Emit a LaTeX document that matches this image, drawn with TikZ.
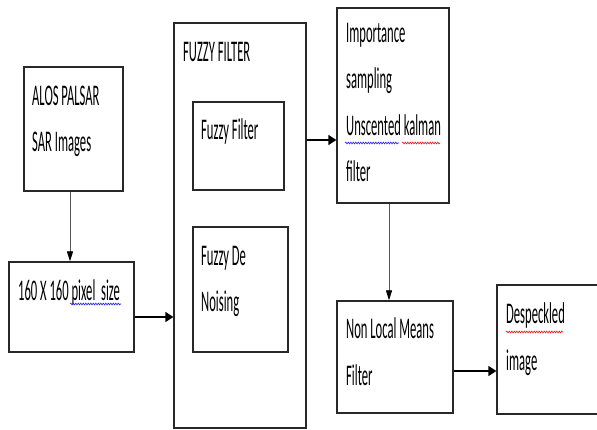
\documentclass[tikz,border=0pt]{standalone}
\usepackage{fontspec}
\newfontfamily\boxfont[FakeStretch=0.42]{Carlito}
\usetikzlibrary{arrows.meta,positioning,calc,decorations.pathmorphing}
\definecolor{boxline}{RGB}{40,40,40}
\definecolor{spellblue}{RGB}{40,40,230}
\definecolor{spellred}{RGB}{230,30,30}

\begin{document}
\begin{tikzpicture}[x=1pt, y=-1pt,
    blockbox/.style={rectangle, draw=boxline, line width=1.3pt, fill=white, inner sep=0pt},
    lbl/.style={anchor=base west, align=left, inner sep=0pt,
        font=\boxfont\fontsize{30}{46.5}\selectfont, text=black},
    arr/.style={-{Triangle[length=8pt, width=10pt]}, line width=1.6pt, black},
    thinarr/.style={-{Triangle[length=10pt, width=6pt, color=black]}, line width=0.8pt, gray!70!black},
    squiggle/.style={decorate, decoration={snake, amplitude=0.9pt, segment length=2.5pt}, line width=0.6pt}
]
    \useasboundingbox (0,0) rectangle (597,430);
    \clip (0,0) rectangle (597,430);

    % boxes
    \node[blockbox, minimum width=99pt, minimum height=124pt] (alos) at (73.5,129) {};
    \node[blockbox, minimum width=125pt, minimum height=90pt] (pix) at (71.5,307) {};
    \node[blockbox, minimum width=132pt, minimum height=405pt] (fuzzy) at (240,225.5) {};
    \node[blockbox, minimum width=91pt, minimum height=88pt] (ff) at (238.5,146) {};
    \node[blockbox, minimum width=95pt, minimum height=125pt] (fdn) at (240.5,289.5) {};
    \node[blockbox, minimum width=112pt, minimum height=195pt] (imp) at (393,105.5) {};
    \node[blockbox, minimum width=116pt, minimum height=112pt] (nlm) at (395,357) {};
    \node[blockbox, minimum width=124pt, minimum height=129pt] (desp) at (559,349.5) {};

    % texts (placed at the baseline of their last line)
    \node[lbl] (alostxt) at (32,152) {ALOS PALSAR\\SAR Images};
    \node[lbl] (pixtxt) at (18,301) {160 X 160 pixel~ size};
    \node[lbl] (fuzzytxt) at (183,62) {FUZZY FILTER};
    \node[lbl] (fftxt) at (201,140) {Fuzzy Filter};
    \node[lbl] (fdntxt) at (201,312) {Fuzzy De\\Noising};
    \node[lbl] (imptxt) at (346,182) {Importance\\sampling\\Unscented kalman\\filter};
    \node[lbl] (nlmtxt) at (346,385) {Non Local Means\\Filter};
    \node[lbl] (desptxt) at (506,370) {Despeckled\\image};

    % spelling marks
    \draw[squiggle, spellblue] (70,304) -- (121,304);
    \draw[squiggle, spellblue] (345,143) -- (399,143);
    \draw[squiggle, spellred] (402,143) -- (440,143);
    \draw[squiggle, spellred] (506,332) -- (563,332);

    % connectors
    \coordinate (alosout) at ($(alos.south)+(-3.5,0)$);
    \coordinate (pixout) at ($(pix.east)+(0,10)$);
    \coordinate (impin) at ($(imp.west)+(0,34.5)$);
    \coordinate (impout) at ($(imp.south)+(-4,0)$);
    \coordinate (nlmout) at ($(nlm.east)+(0,14)$);

    \draw[thinarr] (alosout) -- (alosout |- pix.north);
    \draw[arr] (pixout) -- (pixout -| fuzzy.west);
    \draw[arr] (fuzzy.east |- impin) -- (impin);
    \draw[thinarr] (impout) -- (impout |- nlm.north);
    \draw[arr] (nlmout) -- (nlmout -| desp.west);
\end{tikzpicture}
\end{document}
